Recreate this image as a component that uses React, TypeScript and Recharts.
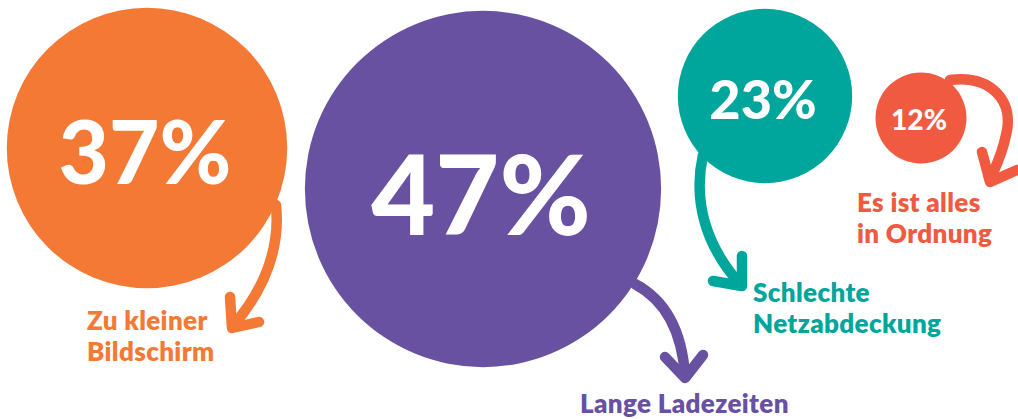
import React from 'react';
import { ScatterChart, Scatter, XAxis, YAxis } from 'recharts';

// survey answers: share of respondents in %
const categories = ['Zu kleiner Bildschirm', 'Lange Ladezeiten', 'Schlechte Netzabdeckung', 'Es ist alles in Ordnung'];
const values = [37, 47, 23, 12];
const labelLines = [['Zu kleiner', 'Bildschirm'], ['Lange Ladezeiten'], ['Schlechte', 'Netzabdeckung'], ['Es ist alles', 'in Ordnung']];

// layout only (chart units = px of the 1018x419 canvas)
const centerX = [147, 483, 765, 921];
const centerY = [148, 189, 96, 118];
const colors = ['#F37935', '#6851A0', '#00A69C', '#EF5A41'];
const labelOffset = [[-60, 182], [97, 224], [-12, 206], [-64, 94]];
const arrowShaft = [
  'M 129 57 C 133 97, 121 137, 86 178',
  'M 152 95 C 182 111, 199 141, 202 187',
  'M -62 59 C -72 104, -60 149, -25 188',
  'M 29 -38 C 69 -43, 94 -18, 85 17 C 81 37, 74 50, 69 62',
];
const arrowHead = [
  'M 83 149 L 85 180 L 112 174',
  'M 182 168 L 202 189 L 220 166',
  'M -23 160 L -23 190 L -52 185',
  'M 61 34 L 69 64 L 96 52',
];
const PX_PER_POINT = 3.79;
const FONT = 'Lato, "Noto Sans", sans-serif';

const data = categories.map((name, i) => ({ name, value: values[i], x: centerX[i], y: centerY[i] }));

function Bubble(props: any) {
  const { cx, cy, payload } = props;
  const i = categories.indexOf(payload.name);
  const r = payload.value * PX_PER_POINT;
  const color = colors[i];
  const [lx, ly] = labelOffset[i];
  return (
    <g>
      <circle cx={cx} cy={cy} r={r} fill={color} />
      <g transform={`translate(${cx},${cy})`} fill="none" stroke={color} strokeWidth={10.5} strokeLinecap="round" strokeLinejoin="round">
        <path d={arrowShaft[i]} />
        <path d={arrowHead[i]} />
      </g>
      <text
        x={cx - 2}
        y={cy + r * 0.26}
        textAnchor="middle"
        fill="#fff"
        fontFamily={FONT}
        fontWeight={900}
        fontSize={r * 0.62}
      >
        {payload.value}%
      </text>
      {labelLines[i].map((line, k) => (
        <text key={k} x={cx + lx} y={cy + ly + k * 31} fill={color} fontFamily={FONT} fontWeight={800} fontSize={26} letterSpacing={0.35}>
          {line}
        </text>
      ))}
    </g>
  );
}

export default function App() {
  return (
    <div style={{ position: 'absolute', left: 0, top: 0, background: '#fff' }}>
      <ScatterChart width={1018} height={419} margin={{ top: 0, right: 0, bottom: 0, left: 0 }}>
        <XAxis type="number" dataKey="x" domain={[0, 1018]} hide allowDataOverflow />
        <YAxis type="number" dataKey="y" domain={[0, 419]} reversed hide allowDataOverflow />
        <Scatter data={data} shape={<Bubble />} isAnimationActive={false} />
      </ScatterChart>
    </div>
  );
}
